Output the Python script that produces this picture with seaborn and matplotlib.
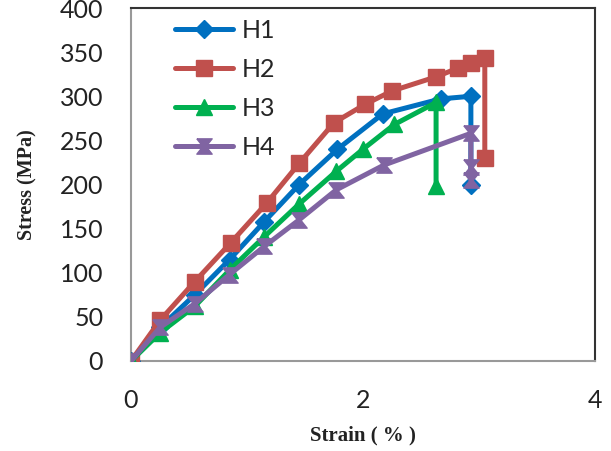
import matplotlib
matplotlib.use("Agg")
import matplotlib.pyplot as plt
import seaborn as sns
import numpy as np

# ---- data ----
h1_strain = [0, 0.25, 0.55, 0.85, 1.15, 1.45, 1.78, 2.17, 2.67, 2.93, 2.93]
h1_stress = [0, 38, 75, 115, 158, 200, 240, 280, 297, 300, 200]

h2_strain = [0, 0.25, 0.55, 0.86, 1.17, 1.45, 1.75, 2.02, 2.25, 2.63, 2.82, 2.93, 3.05, 3.05]
h2_stress = [0, 46, 90, 134, 179, 224, 270, 291, 306, 322, 332, 338, 343, 230]

h3_strain = [0, 0.25, 0.55, 0.85, 1.15, 1.45, 1.77, 2.0, 2.27, 2.63, 2.63]
h3_stress = [0, 32, 62, 103, 141, 178, 215, 240, 268, 293, 198]

h4_strain = [0, 0.25, 0.55, 0.85, 1.15, 1.45, 1.77, 2.18, 2.93, 2.93, 2.93]
h4_stress = [0, 38, 65, 98, 130, 160, 194, 222, 258, 220, 205]

labels = ["H1", "H2", "H3", "H4"]
colors = ["#0070C0", "#C0504D", "#00B050", "#8064A2"]
x_ticks = [0, 2, 4]
y_ticks = [0, 50, 100, 150, 200, 250, 300, 350, 400]

hourglass = [(-1, 1), (1, 1), (0.2, 0), (1, -1), (-1, -1), (-0.2, 0), (-1, 1)]
markers = ["D", "s", "^", hourglass]
msizes = [9, 12, 11, 11]

sns.set_style("white")
plt.rcParams["font.family"] = ["Lato", "DejaVu Sans"]

fig = plt.figure(figsize=(6.11, 4.51), dpi=100)
ax = fig.add_axes([131 / 611, 1 - 361 / 451, (595 - 131) / 611, (361 - 8) / 451])

series = [(h1_strain, h1_stress), (h2_strain, h2_stress),
          (h3_strain, h3_stress), (h4_strain, h4_stress)]
for (xs, ys), lab, col, mk, ms in zip(series, labels, colors, markers, msizes):
    sns.lineplot(x=xs, y=ys, ax=ax, sort=False, estimator=None, color=col,
                 linewidth=3.6, marker=mk, markersize=ms, markeredgecolor=col,
                 markeredgewidth=1, label=lab)

ax.set_xlim(0, 4)
ax.set_ylim(0, 400)
ax.set_xticks(x_ticks)
ax.set_yticks(y_ticks)
ax.tick_params(axis="both", labelsize=18, colors="#888888", length=8, width=1.2,
               direction="out", labelcolor="#222222")
ax.tick_params(axis="x", pad=12)
ax.tick_params(axis="y", pad=12)
for s in ["left", "bottom"]:
    ax.spines[s].set_color("#999999")
    ax.spines[s].set_linewidth(1.5)
for s in ["top", "right"]:
    ax.spines[s].set_color("#333333")
    ax.spines[s].set_linewidth(1.5)
for s in ax.spines.values():
    s.set_zorder(0)

ax.set_xlabel("Strain ( % )", fontsize=15, fontweight="bold",
              family="Liberation Serif", color="#222222", labelpad=10)
ax.set_ylabel("Stress (MPa)", fontsize=14.5, fontweight="bold",
              family="Liberation Serif", color="#222222", labelpad=16)

ax.legend(loc="upper left", bbox_to_anchor=(0.095, 0.97), frameon=False,
          fontsize=18, handlelength=2.3, labelspacing=0.64, borderaxespad=0,
          borderpad=0, handletextpad=0.36)

fig.savefig("out.png", dpi=100)
